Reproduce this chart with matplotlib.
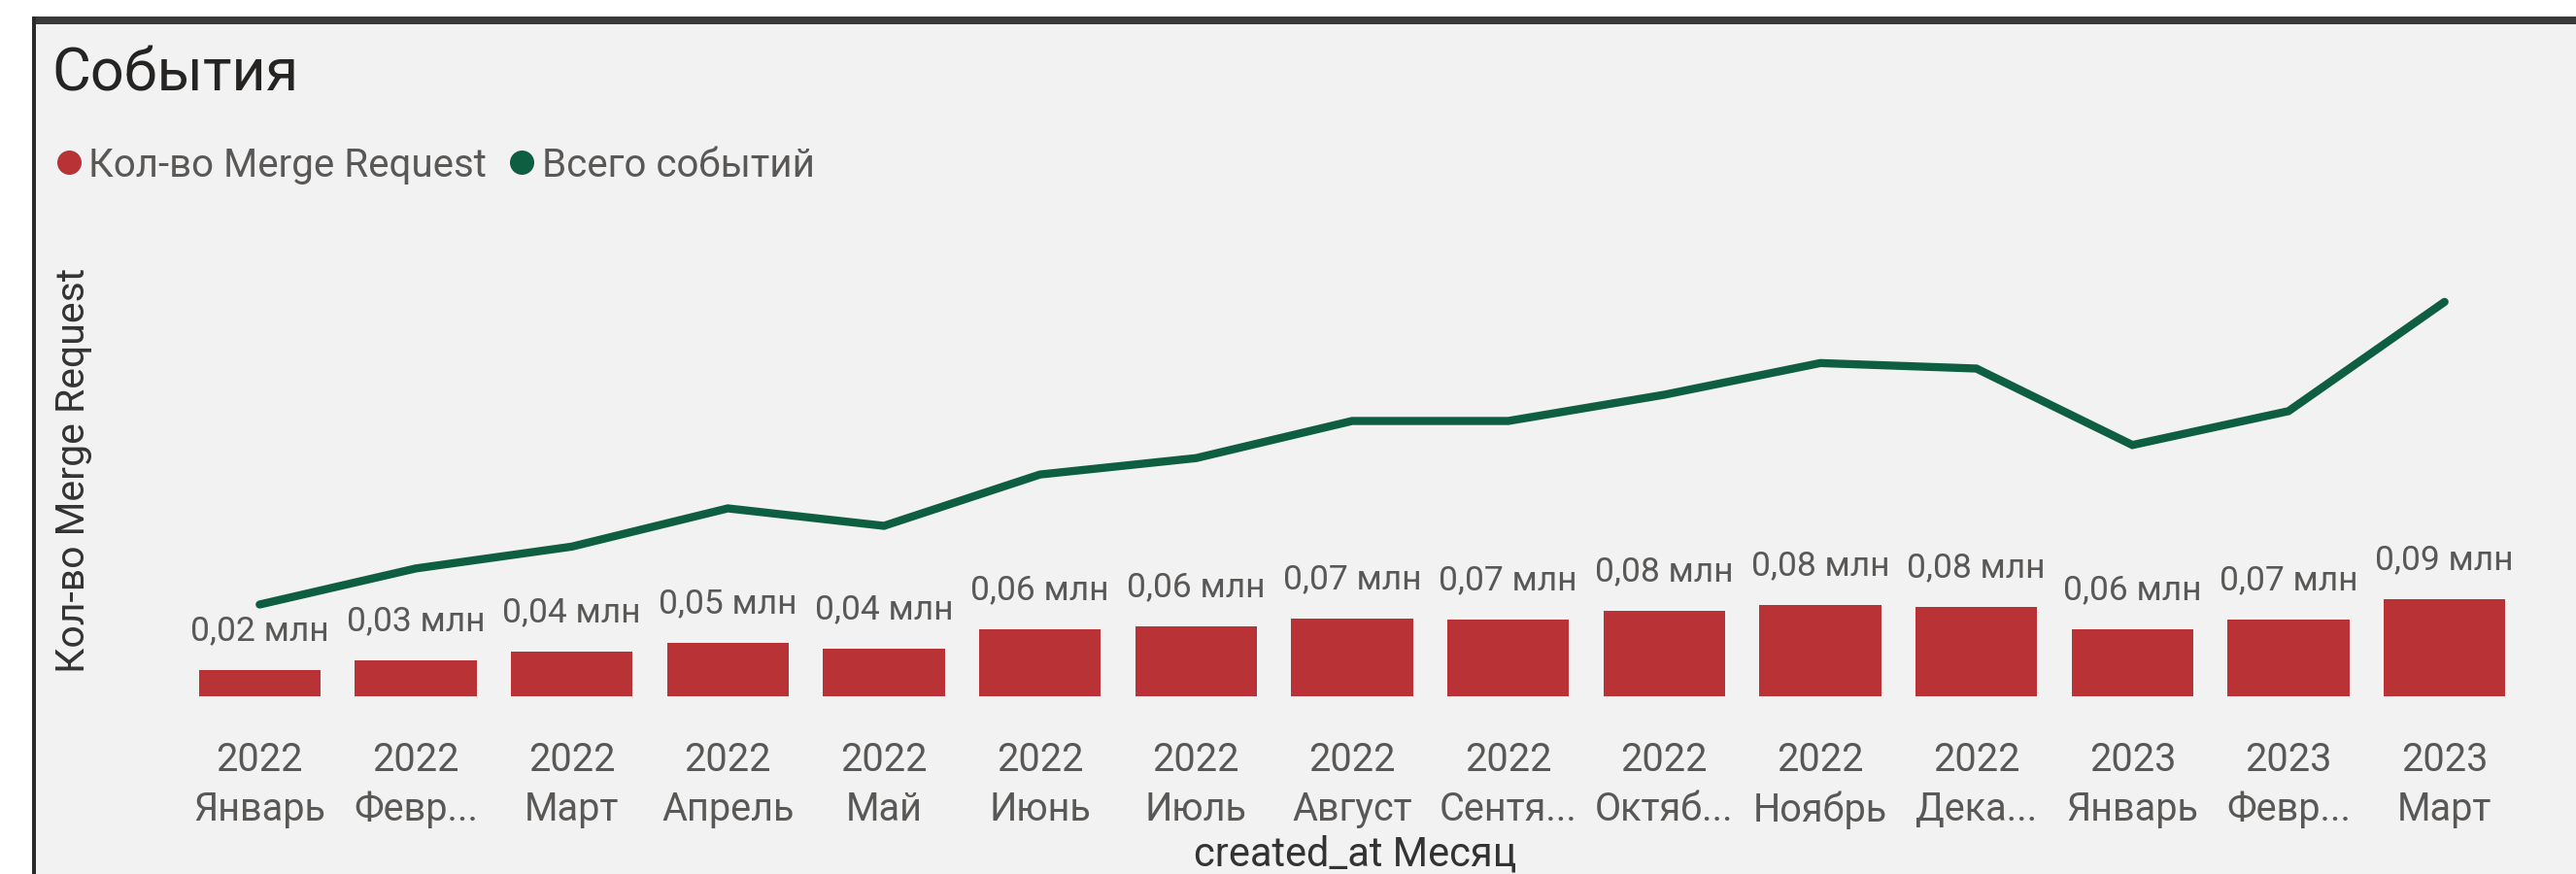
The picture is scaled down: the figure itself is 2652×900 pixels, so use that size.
import matplotlib
matplotlib.use("Agg")
import matplotlib.pyplot as plt
from matplotlib.lines import Line2D
from matplotlib.patches import Rectangle

plt.rcParams['font.family'] = ['Roboto', 'DejaVu Sans']

years = ['2022'] * 12 + ['2023'] * 3
months = ['Январь', 'Февр...', 'Март', 'Апрель', 'Май', 'Июнь', 'Июль', 'Август',
          'Сентя...', 'Октяб...', 'Ноябрь', 'Дека...', 'Январь', 'Февр...', 'Март']
merge_requests = [0.024, 0.033, 0.041, 0.049, 0.044, 0.061, 0.064, 0.071, 0.070,
                  0.078, 0.084, 0.082, 0.061, 0.070, 0.089]   # млн
total_events = [0.084, 0.117, 0.137, 0.172, 0.156, 0.203, 0.218, 0.252, 0.252,
                0.276, 0.305, 0.300, 0.230, 0.261, 0.361]    # млн

BAR = '#B83236'
LINE = '#0E5E42'
BG = '#F2F2F2'
GREY = '#5A5856'

W, H = 2652, 900
fig = plt.figure(figsize=(W / 100, H / 100), dpi=100)
fig.patch.set_facecolor('white')

# panel background + borders
fig.add_artist(Rectangle((34 / W, 0), (W - 34) / W, (H - 22) / H, transform=fig.transFigure,
                         facecolor=BG, edgecolor='none', zorder=0))
fig.add_artist(Rectangle((33 / W, (H - 25) / H), (W - 33) / W, 8 / H, transform=fig.transFigure,
                         facecolor='#3a3a3a', edgecolor='none', zorder=1))
fig.add_artist(Rectangle((33 / W, 0), 4 / W, (H - 17) / H, transform=fig.transFigure,
                         facecolor='#2a2a2a', edgecolor='none', zorder=1))

left, right = 187 / W, 2597 / W
bottom, top = (H - 717) / H, (H - 280) / H
ax = fig.add_axes([left, bottom, right - left, top - bottom])
ax.set_facecolor('none')
for s in ax.spines.values():
    s.set_visible(False)

x = list(range(len(months)))
ax.bar(x, merge_requests, width=0.78, color=BAR, zorder=2)
ax.plot(x, total_events, color=LINE, lw=6, solid_capstyle='round', solid_joinstyle='miter', zorder=3)
ax.set_xlim(-0.5, len(months) - 0.5)
ax.set_ylim(0, (717 - 280) / 1125)
ax.set_yticks([])
ax.set_xticks(x)
ax.set_xticklabels([f'{y}\n{m}' for y, m in zip(years, months)], fontsize=28.5,
                   color=GREY, linespacing=1.4)
ax.tick_params(axis='x', length=0, pad=33)

for xi, v in zip(x, merge_requests):
    ax.annotate(f'{v:.2f}'.replace('.', ',') + ' млн', (xi, v), xytext=(0, 29),
                textcoords='offset points', ha='center', va='center',
                fontsize=25.5, color=GREY, zorder=4)

fig.text(1395 / W, 1 - 880 / H, 'created_at Месяц', ha='center', va='center',
         fontsize=30, color='#333333')
fig.text(76 / W, 1 - 484 / H, 'Кол-во Merge Request', ha='center', va='center',
         rotation=90, fontsize=29.5, color='#333333')
fig.text(53 / W, 1 - 76 / H, 'События', ha='left', va='center', fontsize=44, color='#252423')

handles = [Line2D([], [], marker='o', ls='none', color=BAR, markersize=17),
           Line2D([], [], marker='o', ls='none', color=LINE, markersize=17)]
fig.legend(handles, ['Кол-во Merge Request', 'Всего событий'], loc='center left',
           bbox_to_anchor=(53 / W, 1 - 170 / H), ncol=2, frameon=False, fontsize=29,
           handletextpad=0.05, columnspacing=0.45, handlelength=0.9, borderpad=0,
           borderaxespad=0, labelcolor=GREY)

fig.savefig('out.png', dpi=100, facecolor=fig.get_facecolor())
